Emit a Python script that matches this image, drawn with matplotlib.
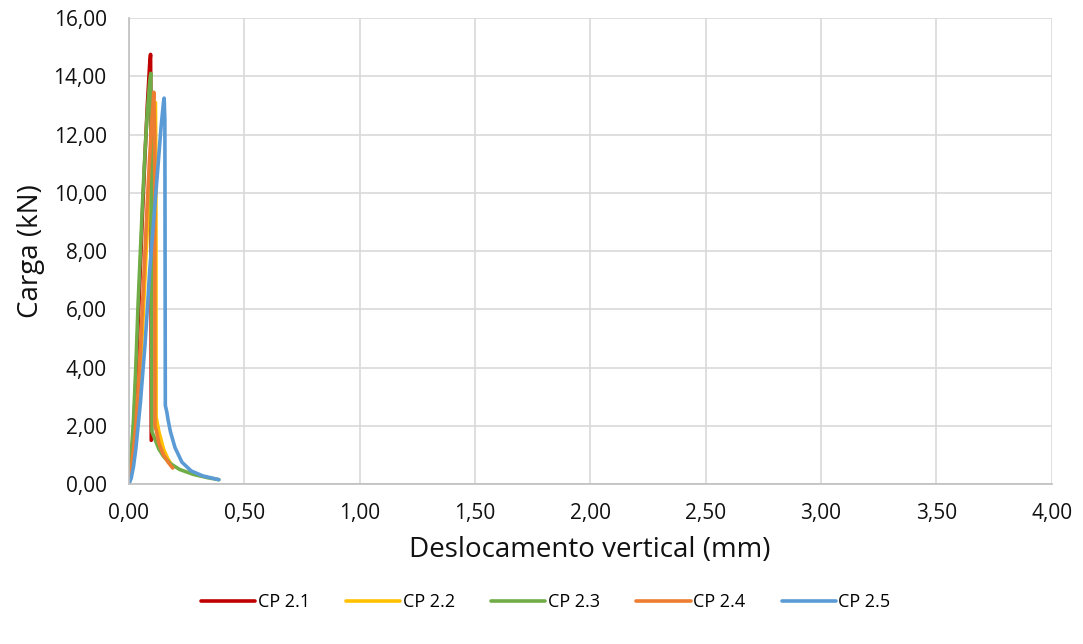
import matplotlib
matplotlib.use("Agg")
import matplotlib.pyplot as plt
from matplotlib.ticker import FuncFormatter

plt.rcParams["font.family"] = ["Open Sans", "DejaVu Sans"]

labels = ["CP 2.1", "CP 2.2", "CP 2.3", "CP 2.4", "CP 2.5"]
colors = ["#C00000", "#FFC000", "#70AD47", "#ED7D31", "#5B9BD5"]

cp21_x = [0, 0.01, 0.02, 0.03, 0.04, 0.05, 0.06, 0.07, 0.08, 0.09, 0.094, 0.096, 0.097]
cp21_y = [0, 0.6, 1.8, 3.5, 5.5, 7.5, 9.5, 11.3, 13.0, 14.4, 14.75, 12.0, 1.5]

cp22_x = [0, 0.02, 0.04, 0.06, 0.08, 0.10, 0.115, 0.117, 0.118, 0.13, 0.15, 0.17, 0.19]
cp22_y = [0, 0.8, 2.5, 5.5, 8.8, 11.8, 13.1, 11.0, 2.3, 1.8, 1.2, 0.85, 0.6]

cp23_x = [0, 0.01, 0.02, 0.03, 0.04, 0.05, 0.06, 0.07, 0.08, 0.09, 0.095, 0.098, 0.10,
          0.11, 0.13, 0.15, 0.18, 0.22, 0.28, 0.34, 0.39]
cp23_y = [0, 1.0, 2.2, 4.0, 6.2, 8.0, 9.8, 11.4, 12.8, 13.8, 14.1, 8.0, 1.8,
          1.6, 1.2, 0.95, 0.7, 0.5, 0.33, 0.22, 0.15]

cp24_x = [0, 0.01, 0.02, 0.03, 0.04, 0.05, 0.06, 0.07, 0.08, 0.09, 0.10, 0.108, 0.112,
          0.113, 0.12, 0.13, 0.15, 0.17, 0.19]
cp24_y = [0, 0.5, 1.2, 2.0, 3.2, 4.6, 6.3, 8.0, 9.7, 11.2, 12.5, 13.45, 12.0,
          2.0, 1.8, 1.4, 1.0, 0.75, 0.55]

cp25_x = [0, 0.01, 0.02, 0.03, 0.04, 0.05, 0.06, 0.07, 0.08, 0.09, 0.10, 0.11, 0.12,
          0.13, 0.14, 0.15, 0.153, 0.156, 0.158, 0.165, 0.17, 0.18, 0.20, 0.23, 0.27,
          0.32, 0.39]
cp25_y = [0, 0.2, 0.6, 1.2, 2.0, 2.8, 3.8, 4.8, 6.0, 7.3, 8.3, 9.3, 10.3,
          11.3, 12.3, 13.1, 13.25, 12.5, 2.7, 2.45, 2.2, 1.8, 1.25, 0.75, 0.45,
          0.28, 0.15]

series = [(cp21_x, cp21_y), (cp22_x, cp22_y), (cp23_x, cp23_y),
          (cp24_x, cp24_y), (cp25_x, cp25_y)]

fig = plt.figure(figsize=(10.83, 6.44), dpi=100)
ax = fig.add_axes([0.119, 0.2484, 0.852, 0.7236])

for (x, y), lab, c in zip(series, labels, colors):
    ax.plot(x, y, color=c, lw=2.6, label=lab, solid_capstyle="round")

ax.set_xlim(0, 4)
ax.set_ylim(0, 16)
ax.set_xticks([i * 0.5 for i in range(9)])
ax.set_yticks(range(0, 17, 2))
fmt = FuncFormatter(lambda v, p: f"{v:.2f}".replace(".", ","))
ax.xaxis.set_major_formatter(fmt)
ax.yaxis.set_major_formatter(fmt)
ax.tick_params(length=0, labelsize=15, colors="#111111")
ax.tick_params(axis="y", pad=16)
ax.tick_params(axis="x", pad=14)
ax.grid(True, color="#d9d9d9", lw=1.2)
ax.set_axisbelow(True)
for s in ["top", "right"]:
    ax.spines[s].set_visible(False)
for s in ["left", "bottom"]:
    ax.spines[s].set_color("#bfbfbf")
    ax.spines[s].set_linewidth(1.2)

ax.set_xlabel("Deslocamento vertical (mm)", fontsize=20, labelpad=8, color="#111111")
ax.set_ylabel("Carga (kN)", fontsize=20, labelpad=6, color="#111111")

fig.legend(loc="center", bbox_to_anchor=(0.504, 0.065), ncol=5, frameon=False,
           fontsize=13, handlelength=3.0, columnspacing=2.0, handletextpad=0.15)

fig.savefig("out.png", dpi=100)
